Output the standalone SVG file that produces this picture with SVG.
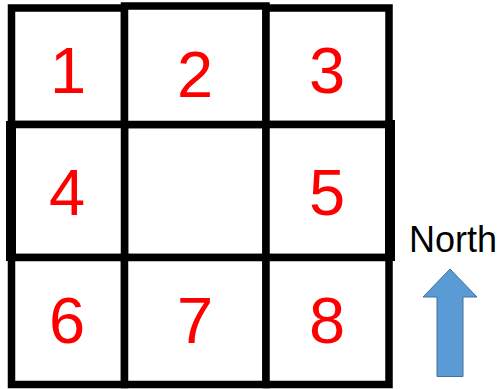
<svg xmlns="http://www.w3.org/2000/svg" width="501" height="389" viewBox="0 0 501 389">
<style>
.cell{fill:#fff;stroke:#000;stroke-width:7.5}
.edge{stroke:#000;stroke-width:10;fill:none}
.num{font-family:"Liberation Sans",Arial,sans-serif;font-size:65px;fill:#ff0000;text-anchor:middle}
.lbl{font-family:"Liberation Sans",Arial,sans-serif;font-size:36px;fill:#000}
</style>
<rect width="501" height="389" fill="#fff"/>
<g id="cell-center"><rect class="cell" x="124.5" y="124.5" width="141.5" height="133"/></g>
<g id="cell-1"><rect class="cell" x="11.5" y="8" width="113" height="116.5"/><text class="num" x="68" y="93">1</text></g>
<g id="cell-2"><rect class="cell" x="124.5" y="6" width="141.5" height="118.5"/><text class="num" x="195" y="97">2</text></g>
<g id="cell-3"><rect class="cell" x="266" y="8" width="123" height="116.5"/><text class="num" x="327" y="93">3</text></g>
<g id="cell-4"><rect class="cell" x="11.5" y="124.5" width="113" height="133"/><line class="edge" x1="11" y1="121" x2="11" y2="261"/><text class="num" x="67" y="215">4</text></g>
<g id="cell-5"><rect class="cell" x="266" y="124.5" width="123" height="133"/><line class="edge" x1="390" y1="120" x2="390" y2="261"/><text class="num" x="327" y="215">5</text></g>
<g id="cell-6"><rect class="cell" x="11.5" y="257.5" width="113" height="127"/><text class="num" x="67" y="343">6</text></g>
<g id="cell-7"><rect class="cell" x="124.5" y="257.5" width="141.5" height="127"/><text class="num" x="195" y="343">7</text></g>
<g id="cell-8"><rect class="cell" x="266" y="257.5" width="123" height="127"/><text class="num" x="327" y="343">8</text></g>
<g id="north">
<text class="lbl" x="409" y="252">North</text>
<polygon points="450,269 477,297 463,297 463,376.5 437,376.5 437,297 423,297" fill="#5b9bd5" stroke="#41719c" stroke-width="1"/>
</g>
</svg>
